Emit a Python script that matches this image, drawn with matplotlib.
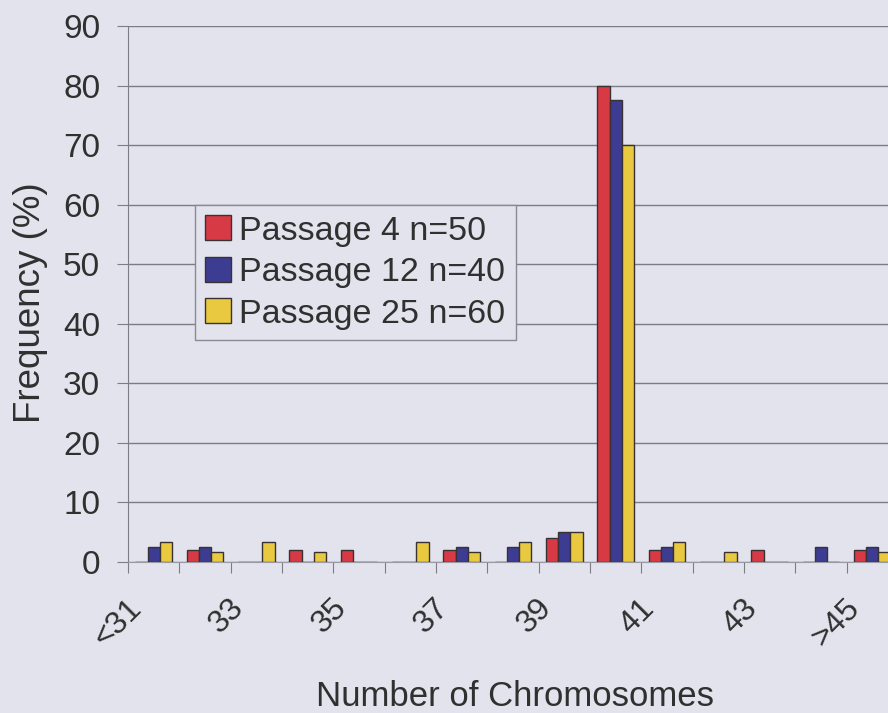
import numpy as np
import matplotlib
matplotlib.use("Agg")
import matplotlib.pyplot as plt

plt.rcParams['font.family'] = ['Liberation Sans', 'DejaVu Sans']

categories = ['<31', '32', '33', '34', '35', '36', '37', '38', '39', '40',
              '41', '42', '43', '44', '>45']
p4 = [0, 2, 0, 2, 2, 0, 2, 0, 4, 80, 2, 0, 2, 0, 2]
p12 = [2.5, 2.5, 0, 0, 0, 0, 2.5, 2.5, 5, 77.5, 2.5, 0, 0, 2.5, 2.5]
p25 = [3.33, 1.67, 3.33, 1.67, 0, 3.33, 1.67, 3.33, 5, 70, 3.33, 1.67, 0, 0, 1.67]
labels = ['Passage 4 n=50', 'Passage 12 n=40', 'Passage 25 n=60']

bg = '#e3e3ed'
txt = '#303030'
fig = plt.figure(figsize=(8.88, 7.13), dpi=100, facecolor=bg)
ax = fig.add_axes([128/888, 151/713, 770/888, 536/713])
ax.set_facecolor(bg)

x = np.arange(len(categories))
w = 0.24
edge = '#3a3232'
ax.bar(x - w, p4, w, color='#d73a45', edgecolor=edge, linewidth=1, label=labels[0], zorder=3)
ax.bar(x, p12, w, color='#3c3c92', edgecolor=edge, linewidth=1, label=labels[1], zorder=3)
ax.bar(x + w, p25, w, color='#e8c93f', edgecolor=edge, linewidth=1, label=labels[2], zorder=3)

ax.set_xlim(-0.5, len(categories) - 0.5)
ax.set_ylim(0, 90)
ax.set_yticks(range(0, 91, 10))
ax.yaxis.grid(True, color='#7c7c84', linewidth=1)
ax.set_axisbelow(True)

# boundaries as major ticks, labels on every other category
# (rotated labels end a little left of the category centre, like Excel)
ax.set_xticks(np.arange(-0.5, len(categories), 1.0))
ax.set_xticklabels([])
ax.set_xticks(x[::2] - 0.33, minor=True)
ax.set_xticklabels(categories[::2], minor=True, rotation=45, ha='right',
                   va='center', rotation_mode='anchor', fontsize=23, color=txt)
ax.tick_params(axis='x', which='minor', length=0, pad=30)
ax.tick_params(axis='x', which='major', length=8, color='#7c7c84')
ax.tick_params(axis='y', length=8, color='#7c7c84', labelsize=24,
               labelcolor=txt, pad=12)

for s in ['top', 'right']:
    ax.spines[s].set_visible(False)
ax.spines['left'].set_color('#7c7c84')
ax.spines['bottom'].set_color('#9a9aa4')

fig.text(515/888, 1 - 697/713, 'Number of Chromosomes', fontsize=25,
         color=txt, ha='center', va='center')
fig.text(30/888, 1 - 303/713, 'Frequency (%)', fontsize=26.5, color=txt,
         rotation=90, ha='center', va='center')

leg = ax.legend(loc='upper left', bbox_to_anchor=((195 - 128) / 770, 1 - (205 - 26) / 536),
                fontsize=24.5, frameon=True, fancybox=False, handlelength=0.75,
                handleheight=0.75, handletextpad=0.25, borderpad=0.3,
                labelspacing=0.3, borderaxespad=0, labelcolor=txt)
leg.get_frame().set_facecolor(bg)
leg.get_frame().set_edgecolor('#8a8a92')
leg.get_frame().set_alpha(1)

fig.savefig('out.png', dpi=100, facecolor=bg)
